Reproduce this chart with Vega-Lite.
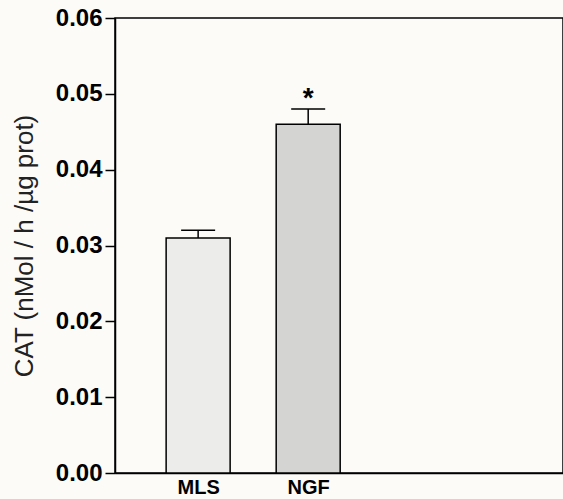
{
  "$schema": "https://vega.github.io/schema/vega-lite/v6.json",
  "width": 448,
  "height": 455,
  "autosize": "none",
  "padding": {"left": 115, "top": 18, "right": 0, "bottom": 26},
  "background": "#fcfbf8",
  "config": {
    "view": {"stroke": "black", "strokeWidth": 1.5},
    "font": "Liberation Sans",
    "axis": {"domainColor": "black", "tickColor": "black", "domainWidth": 1.5, "tickWidth": 1.5, "grid": false, "labelColor": "black", "titleColor": "#222222", "labelFont": "Liberation Sans", "titleFont": "Liberation Sans"}
  },
  "data": {
    "values": [
      {"group": "MLS", "pos": 1, "mean": 0.031, "upper": 0.032, "sig": ""},
      {"group": "NGF", "pos": 2, "mean": 0.046, "upper": 0.048, "sig": "*"}
    ]
  },
  "encoding": {
    "x": {
      "field": "pos",
      "type": "quantitative",
      "scale": {"domain": [0.29, 4.27], "nice": false, "zero": false},
      "axis": {"values": [1, 2], "labelExpr": "datum.value == 1 ? 'MLS' : 'NGF'", "ticks": false, "labelFontSize": 20, "labelFontWeight": "bold", "labelPadding": 4, "title": null}
    }
  },
  "layer": [
    {
      "mark": {"type": "bar", "width": 64, "stroke": "black", "strokeWidth": 1.5},
      "encoding": {
        "y": {
          "field": "mean",
          "type": "quantitative",
          "scale": {"domain": [0, 0.06], "nice": false},
          "axis": {"values": [0, 0.01, 0.02, 0.03, 0.04, 0.05, 0.06], "format": ".2f", "labelFontSize": 24, "labelFontWeight": "bold", "tickSize": 10, "labelPadding": 3, "title": "CAT (nMol / h /µg prot)", "titleFontSize": 26, "titleFontWeight": "normal", "titlePadding": 18}
        },
        "fill": {"field": "group", "type": "nominal", "scale": {"range": ["#ececea", "#d4d4d2"]}, "legend": null}
      }
    },
    {
      "mark": {"type": "rule", "strokeWidth": 1.5, "color": "black"},
      "encoding": {
        "y": {"field": "mean", "type": "quantitative"},
        "y2": {"field": "upper"}
      }
    },
    {
      "mark": {"type": "tick", "orient": "horizontal", "size": 34, "thickness": 1.5, "color": "black", "opacity": 1},
      "encoding": {
        "y": {"field": "upper", "type": "quantitative"}
      }
    },
    {
      "mark": {"type": "text", "fontSize": 28, "fontWeight": "bold", "baseline": "alphabetic", "dy": -2, "color": "black"},
      "encoding": {
        "y": {"field": "upper", "type": "quantitative"},
        "text": {"field": "sig"}
      }
    }
  ]
}
